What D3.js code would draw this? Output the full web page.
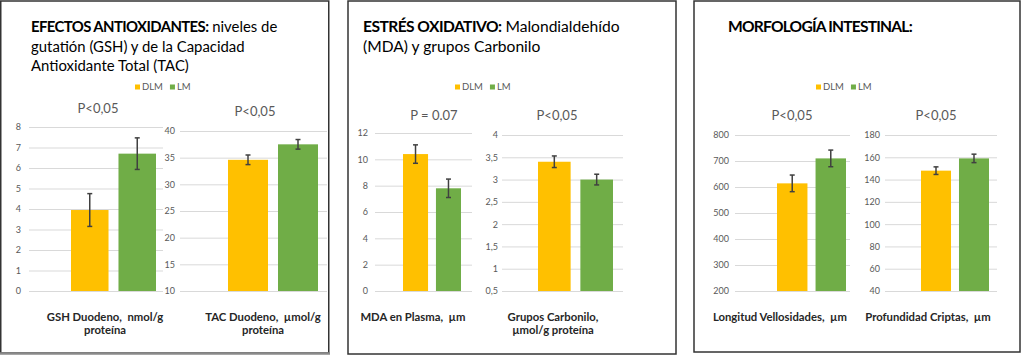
<!DOCTYPE html>
<html>
<head>
<meta charset="utf-8">
<script src="https://cdn.jsdelivr.net/npm/d3@7"></script>
<style>
  html, body { margin: 0; padding: 0; background: #fff; }
  svg { display: block; }
  text { font-family: Lato, "Open Sans", sans-serif; white-space: pre; }
</style>
</head>
<body>
<svg id="chart" width="1024" height="356"></svg>
<script>
// ---------- DATA ----------
const series = ["DLM", "LM"];

const gshValues = [3.95, 6.7];
const gshErrors = [0.8, 0.77];
const gshTicks  = [0, 1, 2, 3, 4, 5, 6, 7, 8];

const tacValues = [34.6, 37.5];
const tacErrors = [0.9, 0.9];
const tacTicks  = [10, 15, 20, 25, 30, 35, 40];

const mdaValues = [10.4, 7.8];
const mdaErrors = [0.7, 0.7];
const mdaTicks  = [0, 2, 4, 6, 8, 10, 12];

const carbValues = [3.4, 3.0];
const carbErrors = [0.13, 0.12];
const carbTicks  = [0.5, 1, 1.5, 2, 2.5, 3, 3.5, 4];

const vellValues = [614, 710];
const vellErrors = [32, 32];
const vellTicks  = [200, 300, 400, 500, 600, 700, 800];

const criptValues = [148, 159];
const criptErrors = [3.4, 3.8];
const criptTicks  = [40, 60, 80, 100, 120, 140, 160, 180];

const pLabels = ["P<0,05", "P<0,05", "P = 0.07", "P<0,05", "P<0,05", "P<0,05"];
const categoryLabels = [
  ["GSH Duodeno,  nmol/g", "proteína"],
  ["TAC Duodeno,  µmol/g", "proteína"],
  ["MDA en Plasma,  µm"],
  ["Grupos Carbonilo,", "µmol/g proteína"],
  ["Longitud Vellosidades,  µm"],
  ["Profundidad Criptas,  µm"]
];
const panelTitles = [
  [[["EFECTOS ANTIOXIDANTES:", true], [" niveles de", false]],
   [["gutatión (GSH) y de la Capacidad", false]],
   [["Antioxidante Total (TAC)", false]]],
  [[["ESTRÉS OXIDATIVO:", true], [" Malondialdehído", false]],
   [["(MDA) y grupos Carbonilo", false]]],
  [[["MORFOLOGÍA INTESTINAL:", true]]]
];

// ---------- LAYOUT / STYLE ----------
const colors = { DLM: "#FFC000", LM: "#70AD47" };
const baseY = 291;
const panels = [
  { x: 0.75, y: 1, w: 328, h: 352, titleX: 31, legendX: 135, titleSize: 14.9, boldSpacing: -0.6 },
  { x: 348, y: 1, w: 328, h: 353, titleX: 363, legendX: 455, titleSize: 15.6, boldSpacing: -0.55 },
  { x: 694, y: 1, w: 326, h: 351, titleX: 728, legendX: 816, titleSize: 15.6, boldSpacing: -0.8 }
];
const subLayout = [
  { values: gshValues,  errors: gshErrors,  ticks: gshTicks,  top: 127, gridL: 29,  gridR: 163, labelEnd: 21,  barL: 71,  barR: 156, pad: 0.21, pX: 98,  pY: 113, catX: 105 },
  { values: tacValues,  errors: tacErrors,  ticks: tacTicks,  top: 131, gridL: 180, gridR: 327, labelEnd: 175, barL: 228, barR: 318, pad: 0.2,  pX: 255, pY: 116, catX: 263 },
  { values: mdaValues,  errors: mdaErrors,  ticks: mdaTicks,  top: 133, gridL: 375, gridR: 472, labelEnd: 368, barL: 403, barR: 461, pad: 0.24, pX: 434, pY: 120, catX: 413 },
  { values: carbValues, errors: carbErrors, ticks: carbTicks, top: 135, gridL: 502, gridR: 623, labelEnd: 498, barL: 538, barR: 613, pad: 0.23, pX: 557, pY: 120, catX: 553 },
  { values: vellValues, errors: vellErrors, ticks: vellTicks, top: 135, gridL: 735, gridR: 850, labelEnd: 729, barL: 777, barR: 846, pad: 0.21, pX: 792, pY: 120, catX: 780 },
  { values: criptValues, errors: criptErrors, ticks: criptTicks, top: 135, gridL: 885, gridR: 997, labelEnd: 880, barL: 921, barR: 989, pad: 0.21, pX: 936, pY: 120, catX: 928 }
];

const locale = d3.formatLocale({ decimal: ",", thousands: ".", grouping: [3], currency: ["", "€"] });
const tickFmt = v => locale.format("~g")(v);

const svg = d3.select("#chart");

// panels
panels.forEach((p, i) => {
  svg.append("rect")
    .attr("x", p.x).attr("y", p.y).attr("width", p.w).attr("height", p.h)
    .attr("fill", "#fff").attr("stroke", "#333").attr("stroke-width", 1.5);

  // title
  const lines = panelTitles[i];
  lines.forEach((line, li) => {
    const t = svg.append("text")
      .attr("x", p.titleX).attr("y", 32 + li * 19.5)
      .attr("font-size", p.titleSize).attr("fill", "#000");
    line.forEach(([txt, bold]) => {
      t.append("tspan")
        .attr("font-weight", bold ? 700 : 400)
        .attr("letter-spacing", bold ? p.boldSpacing : 0)
        .text(txt);
    });
  });

  // legend
  const lg = svg.append("g").attr("transform", `translate(${p.legendX},87)`);
  let lx = 0;
  series.forEach(s => {
    lg.append("rect").attr("x", lx).attr("y", -2.5).attr("width", 5).attr("height", 5).attr("fill", colors[s]);
    const tt = lg.append("text").attr("x", lx + 7).attr("y", 3.3)
      .attr("font-size", 9.5).attr("fill", "#595959").text(s);
    lx += 7 + tt.node().getComputedTextLength() + 7;
  });
});

// gray bottom edge of the first panel
svg.append("line").attr("x1", 0).attr("x2", 330).attr("y1", 353.5).attr("y2", 353.5)
  .attr("stroke", "#8a8a8a").attr("stroke-width", 2.5);

// sub charts
subLayout.forEach((c, i) => {
  const y = d3.scaleLinear()
    .domain([d3.min(c.ticks), d3.max(c.ticks)])
    .range([baseY, c.top]);
  const x = d3.scaleBand().domain(series).range([c.barL, c.barR]).paddingInner(c.pad);

  const axis = d3.axisLeft(y)
    .tickValues(c.ticks)
    .tickSize(c.gridR - c.gridL)
    .tickPadding(c.gridL - c.labelEnd)
    .tickFormat(tickFmt);
  const ag = svg.append("g").attr("transform", `translate(${c.gridR},0)`).call(axis);
  ag.select(".domain").remove();
  ag.selectAll(".tick line").attr("stroke", "#D9D9D9").attr("stroke-width", 1);
  ag.selectAll(".tick text").attr("fill", "#595959").attr("font-size", 9)
    .attr("font-family", 'Lato, "Open Sans", sans-serif');

  const rows = series.map((s, k) => ({ s, v: c.values[k], e: c.errors[k] }));

  svg.append("g").selectAll("rect").data(rows).join("rect")
    .attr("x", d => x(d.s)).attr("width", x.bandwidth())
    .attr("y", d => y(d.v)).attr("height", d => baseY - y(d.v))
    .attr("fill", d => colors[d.s]);

  const eg = svg.append("g").attr("stroke", "#404040").attr("stroke-width", 1.5);
  rows.forEach(d => {
    const cx = x(d.s) + x.bandwidth() / 2;
    eg.append("line").attr("x1", cx).attr("x2", cx).attr("y1", y(d.v + d.e)).attr("y2", y(d.v - d.e));
    eg.append("line").attr("x1", cx - 2.5).attr("x2", cx + 2.5).attr("y1", y(d.v + d.e)).attr("y2", y(d.v + d.e));
    eg.append("line").attr("x1", cx - 2.5).attr("x2", cx + 2.5).attr("y1", y(d.v - d.e)).attr("y2", y(d.v - d.e));
  });

  svg.append("text").attr("x", c.pX).attr("y", c.pY).attr("text-anchor", "middle")
    .attr("font-size", 13).attr("fill", "#595959").text(pLabels[i]);

  categoryLabels[i].forEach((l, li) => {
    svg.append("text").attr("x", c.catX).attr("y", 320.5 + li * 13)
      .attr("text-anchor", "middle").attr("font-size", 11.3).attr("font-weight", 700)
      .attr("fill", "#262626").text(l);
  });
});
</script>
</body>
</html>
